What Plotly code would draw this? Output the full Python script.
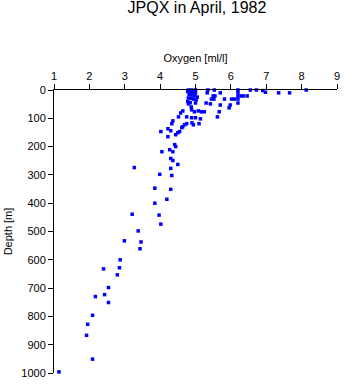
import plotly.graph_objects as go

# Oxygen [ml/l] and depth [m] pairs
oxygen = [
    4.80, 4.88, 4.95, 5.00, 5.35, 5.53, 6.20, 6.55, 6.72, 6.90, 6.98, 7.35, 7.66, 8.13,
    5.33, 5.70, 5.50, 5.55, 5.45, 5.52, 5.82, 6.02, 6.10, 6.20, 6.20, 6.29, 6.35, 6.46,
    6.20, 6.20, 5.30, 5.42, 5.70, 5.98, 5.95, 5.67, 5.62,
    4.78, 4.85, 4.92, 5.00, 4.82, 4.90, 4.98, 5.05, 4.80, 4.88, 4.95, 5.02, 4.78, 4.85,
    5.00, 4.80, 4.88,
    5.08, 5.17, 5.25, 4.97, 4.89, 4.64, 4.58, 4.52, 4.75, 4.89, 5.00, 5.14, 5.10, 4.90,
    4.36, 4.33, 4.75, 4.69, 4.64, 4.61, 4.94,
    4.02, 4.22, 4.30, 4.22, 4.44, 4.50, 4.55, 4.44, 4.41, 4.27, 4.36, 4.05, 4.30, 4.36,
    4.50, 3.27, 4.30, 3.99, 4.33, 3.85, 4.30, 4.19, 3.85, 3.97, 3.21, 4.02, 3.38, 2.99,
    3.46, 3.43,
    2.87, 2.40, 2.85, 2.79, 2.54, 2.43, 2.17, 2.54, 2.09, 1.95, 1.92, 2.09, 1.14,
]
depth = [
    0, 0, 2, 0, 0, 0, 0, 0, 0, 2, 8, 10, 10, 0,
    10, 10, 21, 21, 32, 32, 32, 32, 32, 10, 21, 21, 21, 21,
    32, 46, 46, 49, 53, 53, 63, 77, 95,
    5, 8, 12, 10, 15, 18, 20, 25, 28, 30, 32, 35, 40, 45,
    46, 49, 60,
    74, 77, 77, 77, 70, 74, 81, 95, 95, 98, 98, 102, 119, 116,
    109, 119, 119, 123, 130, 133, 123,
    147, 137, 144, 165, 158, 151, 147, 200, 193, 211, 218, 218, 242, 249,
    263, 274, 277, 298, 302, 347, 351, 386, 400, 442, 439, 474, 498, 533,
    537, 561,
    600, 632, 628, 653, 698, 723, 730, 751, 796, 828, 867, 951, 996,
]

x_ticks = [1, 2, 3, 4, 5, 6, 7, 8, 9]
y_ticks = [0, 100, 200, 300, 400, 500, 600, 700, 800, 900, 1000]

font_family = "Liberation Sans, Arial, sans-serif"

fig = go.Figure(
    go.Scatter(
        x=oxygen,
        y=depth,
        mode="markers",
        marker=dict(symbol="square", size=3.5, color="#0000ff", line=dict(width=0)),
        cliponaxis=False,
        hoverinfo="x+y",
    )
)

fig.update_layout(
    width=345,
    height=384,
    margin=dict(l=54, r=5, t=90, b=7),
    paper_bgcolor="white",
    plot_bgcolor="white",
    showlegend=False,
    font=dict(family=font_family, size=11, color="black"),
    title=dict(
        text="JPQX in April, 1982",
        x=0.571,
        xanchor="center",
        y=0.995,
        yanchor="top",
        font=dict(family=font_family, size=16, color="black"),
    ),
)

fig.update_xaxes(
    side="top",
    range=[1, 9],
    tickvals=x_ticks,
    ticks="outside",
    ticklen=5,
    tickcolor="black",
    showline=True,
    linecolor="black",
    linewidth=1,
    showgrid=False,
    zeroline=False,
    title=dict(text="Oxygen [ml/l]", standoff=4, font=dict(size=11)),
    tickfont=dict(size=11),
)

fig.update_yaxes(
    range=[1000, 0],
    tickvals=y_ticks,
    ticks="outside",
    ticklen=5,
    tickcolor="black",
    showline=True,
    linecolor="black",
    linewidth=1,
    showgrid=False,
    zeroline=False,
    title=dict(text="Depth [m]", standoff=6, font=dict(size=11)),
    tickfont=dict(size=11),
)

fig.write_html("out.html")
